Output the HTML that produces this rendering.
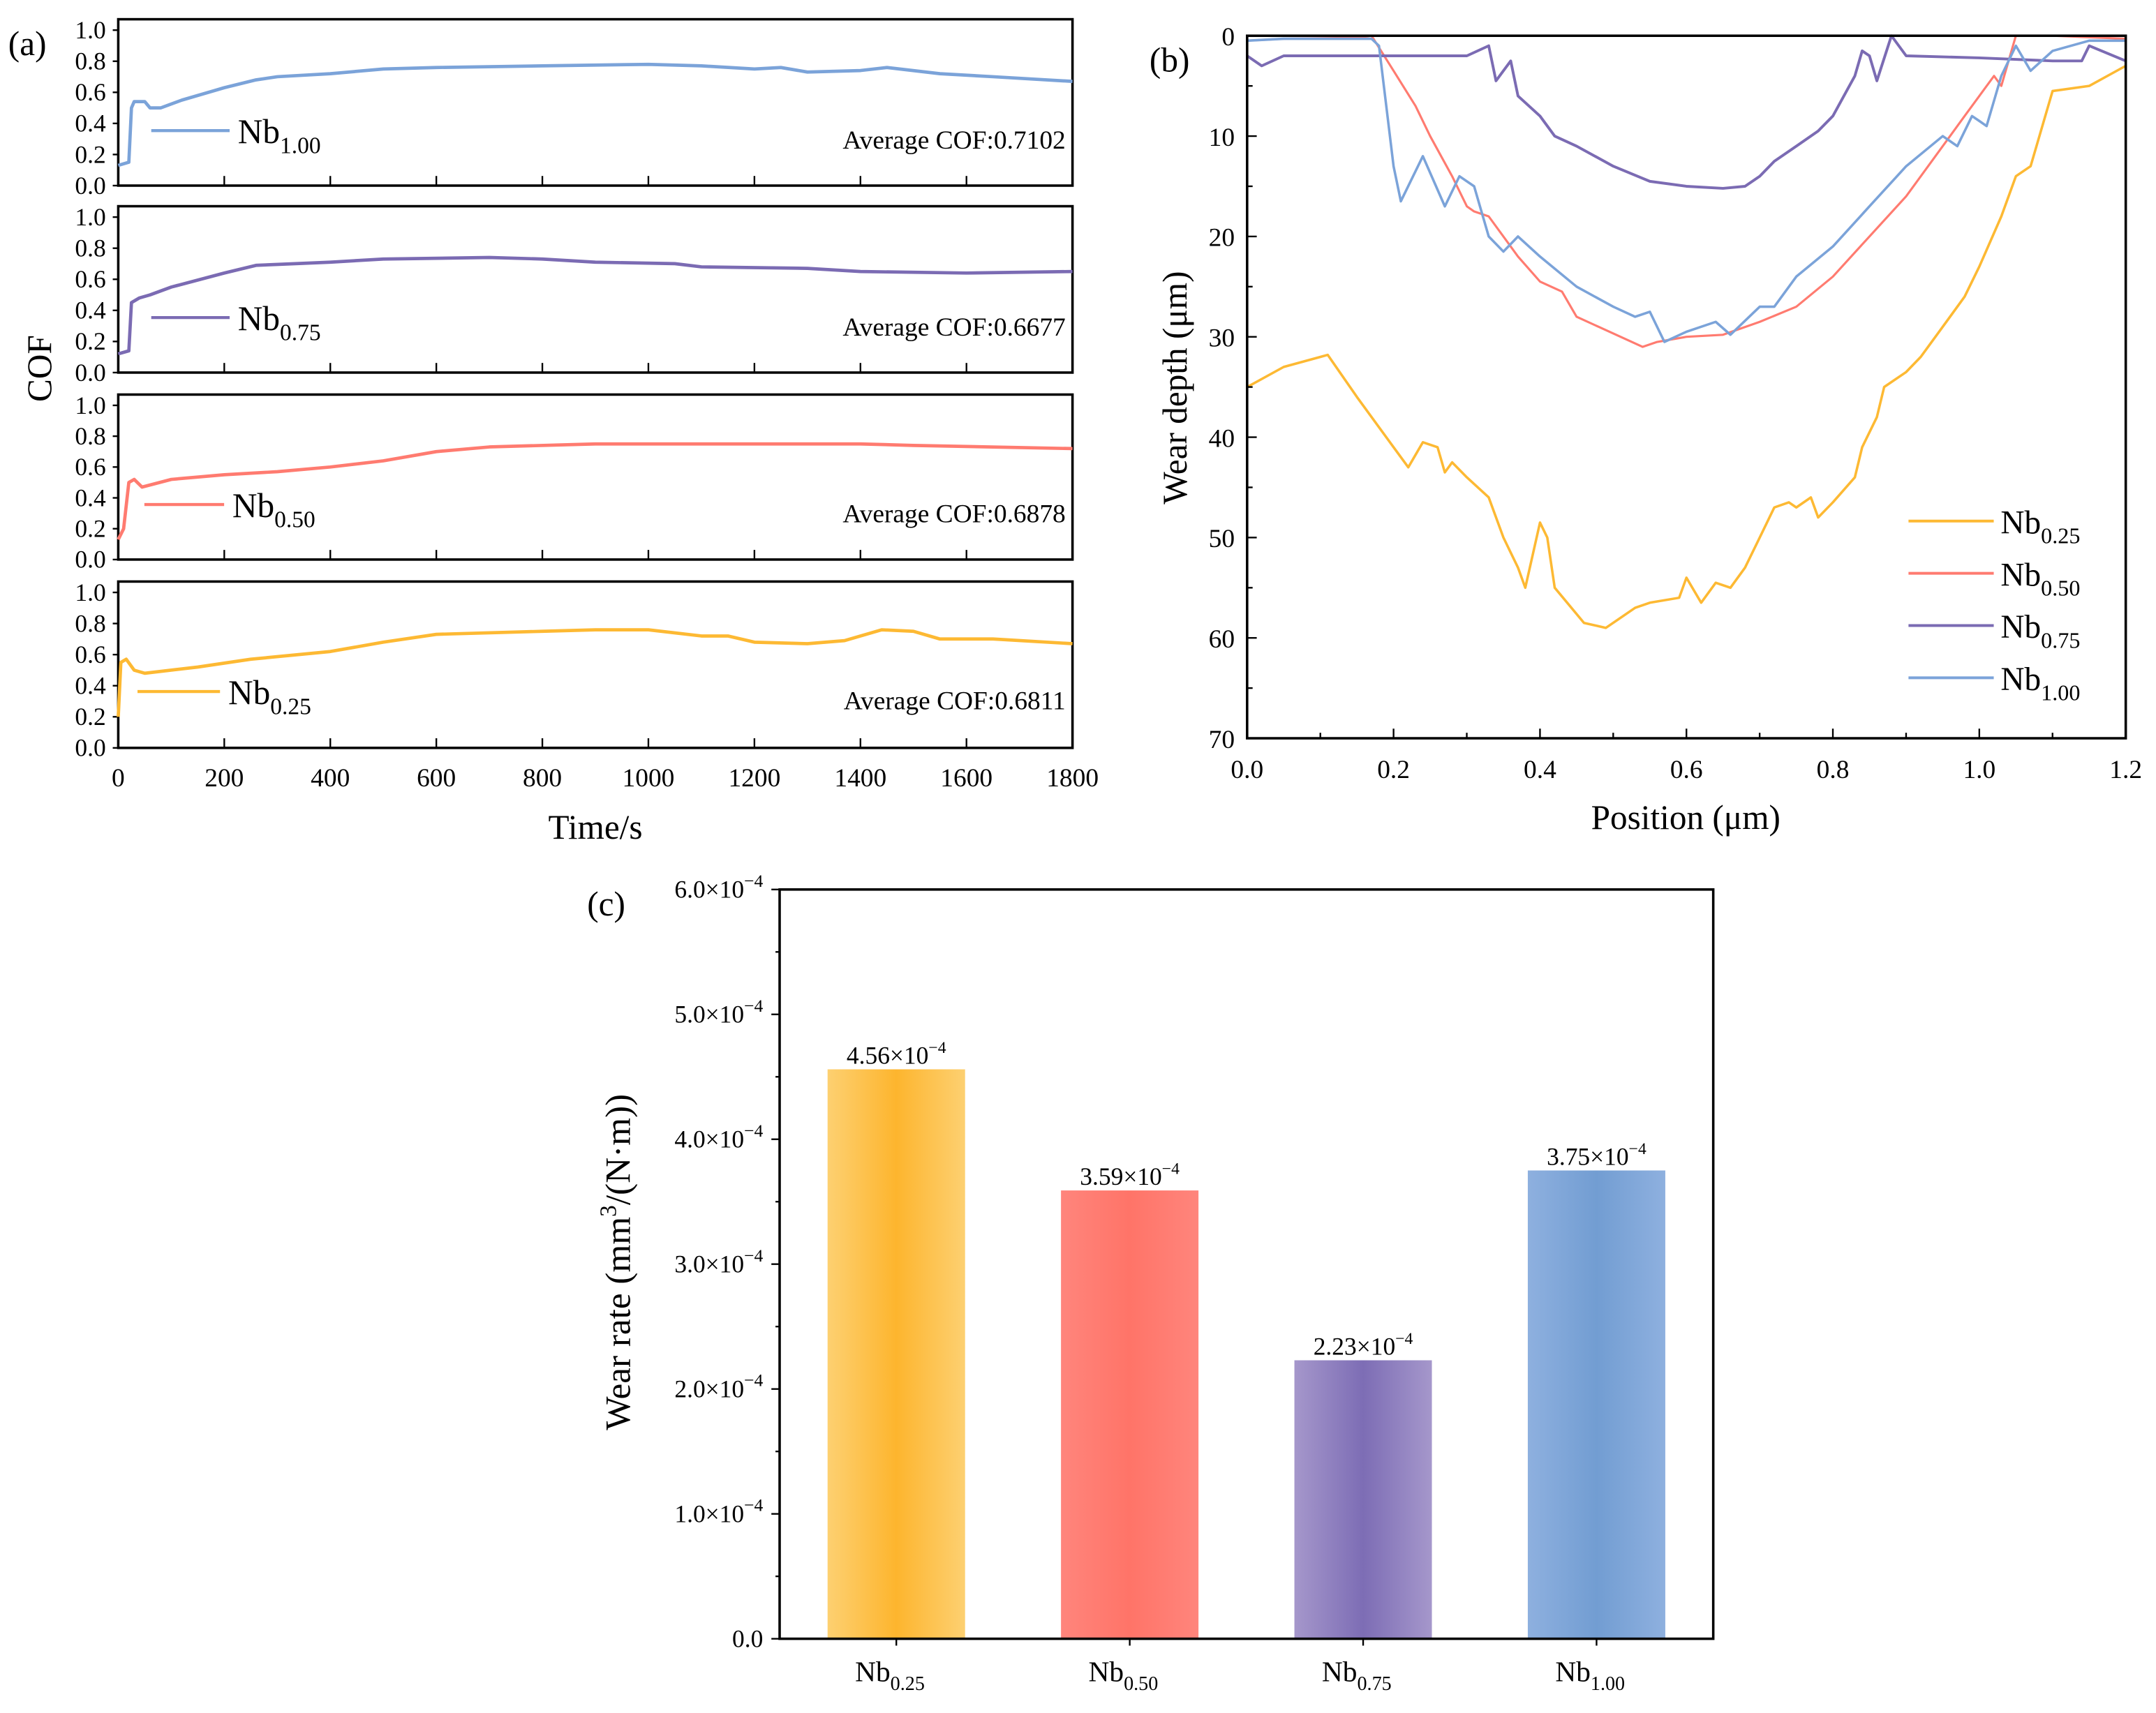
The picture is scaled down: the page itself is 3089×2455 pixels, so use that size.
<!DOCTYPE html>
<html><head><meta charset="utf-8"><style>
html,body{margin:0;padding:0;background:#fff}
svg{display:block;font-family:"Liberation Serif",serif}
</style></head><body>
<svg id="fig" xmlns="http://www.w3.org/2000/svg" width="3089" height="2455" viewBox="0 0 1568 1246" preserveAspectRatio="none"></svg>
<script>
// ---------- Data ----------
const cofTime100=[0,20,25,30,50,60,80,120,200,260,300,400,500,600,800,1000,1100,1200,1250,1300,1400,1450,1550,1650,1800];
const cofVal100=[0.13,0.15,0.5,0.54,0.54,0.5,0.5,0.55,0.63,0.68,0.7,0.72,0.75,0.76,0.77,0.78,0.77,0.75,0.76,0.73,0.74,0.76,0.72,0.7,0.67];
const cofTime075=[0,20,25,40,60,100,200,260,400,500,700,800,900,1050,1100,1300,1400,1600,1800];
const cofVal075=[0.12,0.14,0.45,0.48,0.5,0.55,0.64,0.69,0.71,0.73,0.74,0.73,0.71,0.7,0.68,0.67,0.65,0.64,0.65];
const cofTime050=[0,10,20,30,45,100,200,300,400,500,600,700,900,1400,1500,1800];
const cofVal050=[0.13,0.2,0.5,0.52,0.47,0.52,0.55,0.57,0.6,0.64,0.7,0.73,0.75,0.75,0.74,0.72];
const cofTime025=[0,5,15,30,50,150,250,400,500,600,800,900,1000,1100,1150,1200,1300,1370,1440,1500,1550,1650,1800];
const cofVal025=[0.2,0.55,0.57,0.5,0.48,0.52,0.57,0.62,0.68,0.73,0.75,0.76,0.76,0.72,0.72,0.68,0.67,0.69,0.76,0.75,0.7,0.7,0.67];
const cofAvg=["0.7102","0.6677","0.6878","0.6811"];
const xTicksA=[0,200,400,600,800,1000,1200,1400,1600,1800];
const yTicksA=[0,0.2,0.4,0.6,0.8,1.0];

const posX025=[0,0.05,0.1,0.11,0.15,0.2,0.22,0.24,0.26,0.27,0.28,0.3,0.33,0.35,0.37,0.38,0.4,0.41,0.42,0.46,0.49,0.53,0.55,0.59,0.6,0.62,0.64,0.66,0.68,0.7,0.72,0.74,0.75,0.77,0.78,0.8,0.83,0.84,0.86,0.87,0.9,0.92,0.95,0.98,1.0,1.03,1.05,1.07,1.1,1.15,1.2];
const depth025=[35,33,32,31.8,36,41,43,40.5,41,43.5,42.5,44,46,50,53,55,48.5,50,55,58.5,59,57,56.5,56,54,56.5,54.5,55,53,50,47,46.5,47,46,48,46.5,44,41,38,35,33.5,32,29,26,23,18,14,13,5.5,5,3];
const posX050=[0,0.05,0.15,0.17,0.2,0.23,0.25,0.28,0.3,0.31,0.33,0.37,0.4,0.43,0.45,0.48,0.51,0.54,0.56,0.6,0.65,0.7,0.75,0.8,0.85,0.9,0.95,0.98,1.0,1.02,1.03,1.05,1.1,1.2];
const depth050=[0.5,0.3,0.2,0,3.5,7,10,14,17,17.5,18,22,24.5,25.5,28,29,30,31,30.5,30,29.8,28.5,27,24,20,16,11,8,6,4,5,0,0,0.3];
const posX075=[0,0.02,0.05,0.1,0.2,0.3,0.33,0.34,0.36,0.37,0.4,0.42,0.45,0.5,0.55,0.6,0.65,0.68,0.7,0.72,0.75,0.78,0.8,0.83,0.84,0.85,0.86,0.88,0.9,1.0,1.1,1.14,1.15,1.2];
const depth075=[2,3,2,2,2,2,1,4.5,2.5,6,8,10,11,13,14.5,15,15.2,15,14,12.5,11,9.5,8,4,1.5,2,4.5,0,2,2.2,2.5,2.5,1,2.5];
const posX100=[0,0.05,0.17,0.18,0.2,0.21,0.24,0.27,0.29,0.31,0.33,0.35,0.37,0.4,0.45,0.5,0.53,0.55,0.57,0.6,0.64,0.66,0.7,0.72,0.75,0.8,0.85,0.9,0.95,0.97,0.99,1.0,1.01,1.03,1.05,1.07,1.1,1.15,1.2];
const depth100=[0.5,0.3,0.3,1,13,16.5,12,17,14,15,20,21.5,20,22,25,27,28,27.5,30.5,29.5,28.5,29.8,27,27,24,21,17,13,10,11,8,8.5,9,4,1,3.5,1.5,0.5,0.5];
const xTicksB=[0,0.2,0.4,0.6,0.8,1.0,1.2];
const yTicksB=[0,10,20,30,40,50,60,70];

const barCats=["0.25","0.50","0.75","1.00"];
const barVals=[4.56,3.59,2.23,3.75];
const barLabels=["4.56","3.59","2.23","3.75"];
const yTicksC=[0,1,2,3,4,5,6];

// ---------- helpers ----------
const NS="http://www.w3.org/2000/svg";
const svg=document.getElementById('fig');
function mk(tag,attrs,parent){const e=document.createElementNS(NS,tag);for(const k in attrs)e.setAttribute(k,attrs[k]);(parent||svg).appendChild(e);return e;}
function txt(x,y,s,size,anchor,parent){const t=mk('text',{x:x,y:y,'font-size':size,'text-anchor':anchor||'start',fill:'#000'},parent);t.textContent=s;return t;}
function nbText(x,y,sub,size,parent){const t=mk('text',{x:x,y:y,'font-size':size,fill:'#000'},parent);const a=mk('tspan',{},t);a.textContent='Nb';const b=mk('tspan',{'font-size':size*0.68,dy:size*0.3},t);b.textContent=sub;return t;}
const COL={'1.00':'#7BA3D9','0.75':'#7B6BB3','0.50':'#FF7B70','0.25':'#FDB933'};

// ---------- Panel A ----------
const ax0=86,ax1=780;
const sub=[{t:14,b:135,time:cofTime100,val:cofVal100,k:'1.00',lx:[110,167],ly:95},
{t:150,b:271,time:cofTime075,val:cofVal075,k:'0.75',lx:[110,167],ly:231},
{t:287,b:407,time:cofTime050,val:cofVal050,k:'0.50',lx:[105,163],ly:367},
{t:423,b:544,time:cofTime025,val:cofVal025,k:'0.25',lx:[100,160],ly:503}];
const sxA=v=>ax0+(v/1800)*(ax1-ax0);
const gA=mk('g',{});


txt(6,40,'(a)',25,'start',gA);
sub.forEach((s,i)=>{
  const g=mk('g',{},gA);
  
  
  const sy=v=>s.b-(v/1.07)*(s.b-s.t);
  mk('rect',{x:ax0,y:s.t,width:ax1-ax0,height:s.b-s.t,fill:'none',stroke:'#000','stroke-width':1.8},g);
  yTicksA.forEach(v=>{const y=sy(v);mk('line',{x1:ax0-4,x2:ax0,y1:y,y2:y,stroke:'#000','stroke-width':1.2},g);txt(ax0-9,y+6,v.toFixed(1),18,'end',g);});
  xTicksA.forEach(v=>{const x=sxA(v);mk('line',{x1:x,x2:x,y1:s.b,y2:s.b-7,stroke:'#000','stroke-width':1.2},g);});
  const d=s.time.map((t,j)=>(j?'L':'M')+sxA(t).toFixed(1)+','+sy(s.val[j]).toFixed(1)).join('');
  const p=mk('path',{d:d,fill:'none',stroke:COL[s.k],'stroke-width':2.4,'stroke-linejoin':'round'},g);
  
  
  mk('line',{x1:s.lx[0],x2:s.lx[1],y1:s.ly,y2:s.ly,stroke:COL[s.k],'stroke-width':2.2},g);
  nbText(s.lx[1]+6,s.ly+9,s.k,25,g);
  txt(775,s.ly+13,'Average COF:'+cofAvg[i],19,'end',g);
});
xTicksA.forEach(v=>txt(sxA(v),572,String(v),19,'middle',gA));
const xtA=txt(433,610,'Time/s',25,'middle',gA);
const ytA=txt(0,0,'COF',25,'middle',gA);ytA.setAttribute('transform','translate(37,268) rotate(-90)');

// ---------- Panel B ----------
const bx0=907,bx1=1546,by0=26,by1=537;
const sxB=v=>bx0+(v/1.2)*(bx1-bx0), syB=v=>by0+(v/70)*(by1-by0);
const gB=mk('g',{});


txt(836,52,'(b)',25,'start',gB);
const seriesB=[[posX025,depth025,'0.25',1.8],[posX050,depth050,'0.50',1.6],[posX075,depth075,'0.75',2.0],[posX100,depth100,'1.00',1.8]];
seriesB.forEach(s=>{
  const d=s[0].map((x,j)=>(j?'L':'M')+sxB(x).toFixed(1)+','+syB(s[1][j]).toFixed(1)).join('');
  const p=mk('path',{d:d,fill:'none',stroke:COL[s[2]],'stroke-width':s[3],'stroke-linejoin':'round'},gB);
  
  
});
mk('rect',{x:bx0,y:by0,width:bx1-bx0,height:by1-by0,fill:'none',stroke:'#000','stroke-width':1.8},gB);
for(let v=0;v<=70;v+=5){const y=syB(v);mk('line',{x1:bx0,x2:bx0+(v%10?4:7),y1:y,y2:y,stroke:'#000','stroke-width':1.2},gB);}
yTicksB.forEach(v=>txt(bx0-9,syB(v)+7,String(v),19,'end',gB));
for(let i=0;i<=12;i++){const x=sxB(i/10);mk('line',{x1:x,x2:x,y1:by1,y2:by1-(i%2?4:7),stroke:'#000','stroke-width':1.2},gB);}
xTicksB.forEach(v=>txt(sxB(v),566,v.toFixed(1),19,'middle',gB));
txt(1226,603,'Position (μm)',25,'middle',gB);
const ytB=txt(0,0,'Wear depth (μm)',25,'middle',gB);ytB.setAttribute('transform','translate(863,282) rotate(-90)');
['0.25','0.50','0.75','1.00'].forEach((k,i)=>{
  const y=379+i*38;
  mk('line',{x1:1388,x2:1450,y1:y,y2:y,stroke:COL[k],'stroke-width':2},gB);
  nbText(1455,y+9,k,24,gB);
});

// ---------- Panel C ----------
const cx0=567,cx1=1246,cy0=647,cy1=1192;
const syC=v=>cy1-(v/6)*(cy1-cy0);
const gC=mk('g',{});


const defs=mk('defs',{},gC);
const grad={'0.25':['#FDD071','#FDB52E'],'0.50':['#FF857C','#FF7468'],'0.75':['#A597CB','#7D6DB5'],'1.00':['#8EB0DF','#729DD2']};
barCats.forEach(k=>{const lg=mk('linearGradient',{id:'g'+k.replace('.',''),x1:0,x2:1,y1:0,y2:0},defs);
  mk('stop',{offset:0,'stop-color':grad[k][0]},lg);mk('stop',{offset:0.5,'stop-color':grad[k][1]},lg);mk('stop',{offset:1,'stop-color':grad[k][0]},lg);});
txt(427,666,'(c)',25,'start',gC);
const bw=100, slot=(cx1-cx0)/4;
barCats.forEach((k,i)=>{
  const cx=cx0+slot*(i+0.5), y=syC(barVals[i]);
  const r=mk('rect',{x:cx-bw/2,y:y,width:bw,height:cy1-y,fill:'url(#g'+k.replace('.','')+')'},gC);
  
  
  const t=mk('text',{x:cx,y:y-4,'font-size':18,'text-anchor':'middle',fill:'#000'},gC);
  const a=mk('tspan',{},t);a.textContent=barLabels[i]+'×10';
  const b=mk('tspan',{'font-size':12,dy:-8},t);b.textContent='−4';
  
  const xl=nbText(cx-30,1223,k,21,gC);
  mk('line',{x1:cx,x2:cx,y1:cy1,y2:cy1+5,stroke:'#000','stroke-width':1.2},gC);
});
mk('rect',{x:cx0,y:cy0,width:cx1-cx0,height:cy1-cy0,fill:'none',stroke:'#000','stroke-width':1.8},gC);
for(let v=0;v<=6;v+=0.5){const y=syC(v);mk('line',{x1:cx0-(v%1?3:6),x2:cx0,y1:y,y2:y,stroke:'#000','stroke-width':1.2},gC);}
yTicksC.forEach(v=>{
  const y=syC(v);
  if(v===0){txt(cx0-12,y+6,'0.0',18,'end',gC);return;}
  const t=mk('text',{x:cx0-12,y:y+6,'font-size':18,'text-anchor':'end',fill:'#000'},gC);
  const a=mk('tspan',{},t);a.textContent=v.toFixed(1)+'×10';
  const b=mk('tspan',{'font-size':13,dy:-8},t);b.textContent='−4';
});
const ytC=mk('text',{'font-size':26,'text-anchor':'middle',fill:'#000',transform:'translate(458,918) rotate(-90)'},gC);

const t1=mk('tspan',{},ytC);t1.textContent='Wear rate (mm';
const t2=mk('tspan',{'font-size':17,dy:-10},ytC);t2.textContent='3';
const t3=mk('tspan',{dy:10},ytC);t3.textContent='/(N·m))';
</script>
</body></html>
